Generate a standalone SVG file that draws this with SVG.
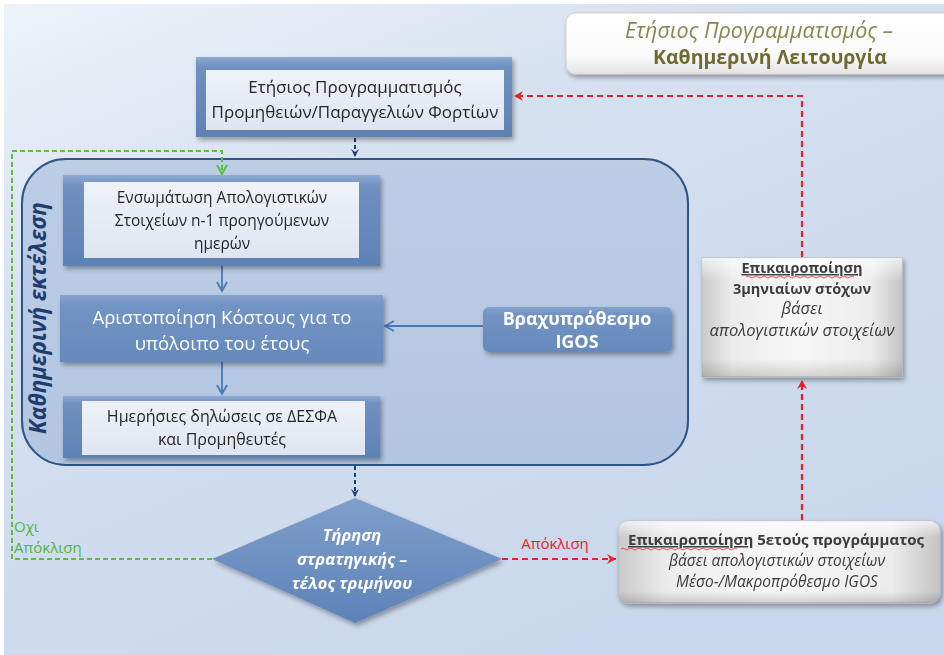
<svg xmlns="http://www.w3.org/2000/svg" width="944" height="655" viewBox="0 0 944 655">
  <defs>
    <linearGradient id="bg" x1="0" y1="0" x2="0.6" y2="1">
      <stop offset="0" stop-color="#eef3fa"/>
      <stop offset="0.35" stop-color="#d6e1f0"/>
      <stop offset="1" stop-color="#c9d7ec"/>
    </linearGradient>
    <linearGradient id="container" x1="0" y1="0" x2="0" y2="1">
      <stop offset="0" stop-color="#bccde6"/>
      <stop offset="1" stop-color="#b3c6e1"/>
    </linearGradient>
    <linearGradient id="frame" x1="0" y1="0" x2="0" y2="1">
      <stop offset="0" stop-color="#8faad2"/>
      <stop offset="0.12" stop-color="#6f90c0"/>
      <stop offset="1" stop-color="#5f82b5"/>
    </linearGradient>
    <linearGradient id="solid" x1="0" y1="0" x2="0" y2="1">
      <stop offset="0" stop-color="#86a3cd"/>
      <stop offset="0.15" stop-color="#7294c4"/>
      <stop offset="1" stop-color="#6689bc"/>
    </linearGradient>
    <linearGradient id="inner" x1="0" y1="0" x2="0" y2="1">
      <stop offset="0" stop-color="#eef2f8"/>
      <stop offset="1" stop-color="#dfe6f1"/>
    </linearGradient>
    <linearGradient id="diamond" x1="0" y1="0" x2="0" y2="1">
      <stop offset="0" stop-color="#7f9fcb"/>
      <stop offset="1" stop-color="#5c82b8"/>
    </linearGradient>
    <linearGradient id="grey" x1="0" y1="0" x2="1" y2="0">
      <stop offset="0" stop-color="#c9c9c9"/>
      <stop offset="0.15" stop-color="#ececec"/>
      <stop offset="0.5" stop-color="#f7f7f7"/>
      <stop offset="0.85" stop-color="#ececec"/>
      <stop offset="1" stop-color="#c4c4c4"/>
    </linearGradient>
    <linearGradient id="greyV" x1="0" y1="0" x2="0" y2="1">
      <stop offset="0" stop-color="#ffffff" stop-opacity="0.7"/>
      <stop offset="0.2" stop-color="#ffffff" stop-opacity="0"/>
      <stop offset="0.85" stop-color="#000000" stop-opacity="0"/>
      <stop offset="1" stop-color="#000000" stop-opacity="0.15"/>
    </linearGradient>
    <linearGradient id="title" x1="0" y1="0" x2="0" y2="1">
      <stop offset="0" stop-color="#ffffff"/>
      <stop offset="0.7" stop-color="#fafafa"/>
      <stop offset="1" stop-color="#e4e4e4"/>
    </linearGradient>
    <filter id="shadow" x="-10%" y="-10%" width="125%" height="135%">
      <feGaussianBlur in="SourceAlpha" stdDeviation="2.5"/>
      <feOffset dx="2" dy="3" result="b"/>
      <feComponentTransfer><feFuncA type="linear" slope="0.35"/></feComponentTransfer>
      <feMerge><feMergeNode/><feMergeNode in="SourceGraphic"/></feMerge>
    </filter>
    <marker id="navyHead" markerWidth="10" markerHeight="10" refX="8" refY="5" orient="auto" markerUnits="userSpaceOnUse">
      <path d="M1,1 L9,5 L1,9 L4,5 Z" fill="#1f3c6e"/>
    </marker>
    <marker id="blueHead" markerWidth="12" markerHeight="12" refX="10" refY="6" orient="auto" markerUnits="userSpaceOnUse">
      <path d="M1,1 L10,6 L1,11" fill="none" stroke="#4a78b4" stroke-width="1.8"/>
    </marker>
    <marker id="redHead" markerWidth="12" markerHeight="12" refX="10" refY="6" orient="auto" markerUnits="userSpaceOnUse">
      <path d="M1,1 L10,6 L1,11 L4,6 Z" fill="#e8202a"/>
    </marker>
    <marker id="greenHead" markerWidth="12" markerHeight="12" refX="10" refY="6" orient="auto" markerUnits="userSpaceOnUse">
      <path d="M1,1 L10,6 L1,11" fill="none" stroke="#58c03c" stroke-width="2"/>
    </marker>
    <style>
      .t { font-family: "Open Sans", "Noto Sans", "DejaVu Sans", sans-serif; }
      .dark { fill: #262626; }
      .white { fill: #ffffff; }
      .grey { fill: #3c3c3c; }
      .navyDash { fill: none; stroke: #1f3c6e; stroke-width: 2; stroke-dasharray: 4 3; }
      .redDash { fill: none; stroke: #e8202a; stroke-width: 2.2; stroke-dasharray: 6 4; }
      .greenDash { fill: none; stroke: #58c03c; stroke-width: 2; stroke-dasharray: 5 3; }
      .blueLine { fill: none; stroke: #4a78b4; stroke-width: 1.8; }
    </style>
  </defs>

  <!-- background -->
  <rect x="0" y="0" width="944" height="655" fill="#ffffff"/>
  <rect x="4" y="4" width="940" height="651" fill="url(#bg)"/>

  <!-- title card -->
  <g id="title-card" filter="url(#shadow)">
    <rect x="566" y="13" width="390" height="61" rx="9" fill="url(#title)" stroke="#d0d0d0" stroke-width="1"/>
    <text class="t" x="759" y="38" text-anchor="middle" font-size="21.5" font-style="italic" fill="#8a8650">Ετήσιος Προγραμματισμός –</text>
    <text class="t" x="770" y="64" text-anchor="middle" font-size="19.5" font-weight="bold" fill="#6f6a2e">Καθημερινή Λειτουργία</text>
  </g>

  <!-- daily execution container -->
  <g id="daily-execution">
    <rect x="22" y="159" width="666" height="306" rx="44" fill="url(#container)" stroke="#2f5486" stroke-width="2"/>
    <text class="t" transform="translate(46,318) rotate(-90)" text-anchor="middle" font-size="22.5" font-weight="bold" font-style="italic" fill="#1f3c6e">Καθημερινή εκτέλεση</text>
  </g>

  <!-- connectors -->
  <g id="connectors">
    <path class="navyDash" d="M355,138 V156" marker-end="url(#navyHead)"/>
    <path class="blueLine" d="M222,266 V291" marker-end="url(#blueHead)"/>
    <path class="blueLine" d="M222,362 V394" marker-end="url(#blueHead)"/>
    <path class="blueLine" d="M483,326 H385" marker-end="url(#blueHead)"/>
    <path class="navyDash" d="M355,466 V496" marker-end="url(#navyHead)"/>
    <path class="greenDash" d="M212,559 H12 V151 H222 V174" marker-end="url(#greenHead)"/>
    <path class="redDash" d="M502,559 H616" marker-end="url(#redHead)"/>
    <path class="redDash" d="M802,520 V380" marker-end="url(#redHead)"/>
    <path class="redDash" d="M802,257 V96 H514" marker-end="url(#redHead)"/>
  </g>

  <!-- annual planning box -->
  <g id="annual-planning" filter="url(#shadow)">
    <rect x="196" y="57" width="316" height="80" fill="url(#frame)"/>
    <rect x="206" y="70" width="298" height="60" fill="url(#inner)"/>
    <text class="t dark" x="355" y="93" text-anchor="middle" font-size="17">Ετήσιος Προγραμματισμός</text>
    <text class="t dark" x="355" y="118" text-anchor="middle" font-size="17">Προμηθειών/Παραγγελιών Φορτίων</text>
  </g>

  <!-- incorporate actuals box -->
  <g id="incorporate-actuals" filter="url(#shadow)">
    <rect x="63" y="175" width="317" height="91" fill="url(#frame)"/>
    <rect x="84" y="182" width="275" height="76" fill="url(#inner)"/>
    <text class="t dark" x="222" y="203" text-anchor="middle" font-size="15.5">Ενσωμάτωση  Απολογιστικών</text>
    <text class="t dark" x="222" y="226" text-anchor="middle" font-size="15.5">Στοιχείων n-1 προηγούμενων</text>
    <text class="t dark" x="222" y="249" text-anchor="middle" font-size="15.5">ημερών</text>
  </g>

  <!-- cost optimisation box -->
  <g id="cost-optimisation" filter="url(#shadow)">
    <rect x="60" y="295" width="323" height="67" fill="url(#solid)"/>
    <text class="t white" x="222" y="324" text-anchor="middle" font-size="18.5">Αριστοποίηση Κόστους  για το</text>
    <text class="t white" x="222" y="350" text-anchor="middle" font-size="18.5">υπόλοιπο του έτους</text>
  </g>

  <!-- short-term IGOS -->
  <g id="short-term-igos" filter="url(#shadow)">
    <rect x="483" y="307" width="189" height="45" rx="6" fill="url(#solid)"/>
    <text class="t white" x="577" y="325" text-anchor="middle" font-size="18" font-weight="bold">Βραχυπρόθεσμο</text>
    <text class="t white" x="577" y="348" text-anchor="middle" font-size="18" font-weight="bold">IGOS</text>
  </g>

  <!-- daily declarations box -->
  <g id="daily-declarations" filter="url(#shadow)">
    <rect x="63" y="396" width="317" height="62" fill="url(#frame)"/>
    <rect x="82" y="401" width="283" height="54" fill="url(#inner)"/>
    <text class="t dark" x="222" y="422" text-anchor="middle" font-size="16">Ημερήσιες δηλώσεις σε ΔΕΣΦΑ</text>
    <text class="t dark" x="222" y="445" text-anchor="middle" font-size="16">και Προμηθευτές</text>
  </g>

  <!-- strategy check decision -->
  <g id="strategy-check" filter="url(#shadow)">
    <polygon points="355,498 502,559 355,623 212,559" fill="url(#diamond)"/>
    <text class="t white" x="352" y="541" text-anchor="middle" font-size="16.5" font-style="italic" font-weight="bold">Τήρηση</text>
    <text class="t white" x="352" y="565" text-anchor="middle" font-size="16.5" font-style="italic" font-weight="bold">στρατηγικής –</text>
    <text class="t white" x="352" y="589" text-anchor="middle" font-size="16.5" font-style="italic" font-weight="bold">τέλος τριμήνου</text>
  </g>

  <!-- branch labels -->
  <g id="branch-labels">
    <text class="t" x="14" y="532" font-size="15" fill="#4fb63a">Οχι</text>
    <text class="t" x="14" y="553" font-size="15" fill="#4fb63a">Απόκλιση</text>
    <text class="t" x="555" y="549" text-anchor="middle" font-size="15" fill="#e8202a">Απόκλιση</text>
  </g>

  <!-- quarterly targets update -->
  <g id="quarterly-update" filter="url(#shadow)">
    <rect x="702" y="258" width="200" height="119" fill="url(#grey)" stroke="#bdbdbd" stroke-width="1"/>
    <rect x="702" y="258" width="200" height="119" fill="url(#greyV)"/>
    <text class="t grey" x="802" y="273" text-anchor="middle" font-weight="bold" font-size="14.5" text-decoration="underline">Επικαιροποίηση</text>
    <path d="M746,277 q2,-2 4,0 t4,0 t4,0 t4,0 t4,0 t4,0 t4,0 t4,0 t4,0 t4,0 t4,0 t4,0 t4,0 t4,0 t4,0 t4,0 t4,0 t4,0 t4,0 t4,0 t4,0 t4,0 t4,0 t4,0 t4,0 t4,0 t4,0" fill="none" stroke="#e04040" stroke-width="0.9"/>
    <text class="t grey" x="802" y="294" text-anchor="middle" font-weight="bold" font-size="14.5">3μηνιαίων στόχων</text>
    <text class="t grey" x="802" y="314" text-anchor="middle" font-style="italic" font-size="16.5">βάσει</text>
    <text class="t grey" x="802" y="336" text-anchor="middle" font-style="italic" font-size="16.5">απολογιστικών στοιχείων</text>
  </g>

  <!-- five-year programme update -->
  <g id="five-year-update" filter="url(#shadow)">
    <rect x="618" y="521" width="322" height="82" rx="10" fill="url(#grey)" stroke="#bdbdbd" stroke-width="1"/>
    <rect x="618" y="521" width="322" height="82" rx="10" fill="url(#greyV)"/>
    <text class="t grey" x="776" y="545" text-anchor="middle" font-weight="bold" font-size="15"><tspan text-decoration="underline">Επικαιροποίηση</tspan>  5ετούς προγράμματος</text>
    <path d="M621,549 q2,-2 4,0 t4,0 t4,0 t4,0 t4,0 t4,0 t4,0 t4,0 t4,0 t4,0 t4,0 t4,0 t4,0 t4,0 t4,0 t4,0 t4,0 t4,0 t4,0 t4,0 t4,0 t4,0 t4,0 t4,0 t4,0 t4,0 t4,0 t4,0 t4,0" fill="none" stroke="#e04040" stroke-width="0.9"/>
    <text class="t grey" x="777" y="566" text-anchor="middle" font-style="italic" font-size="15.5">βάσει απολογιστικών στοιχείων</text>
    <text class="t grey" x="777" y="587" text-anchor="middle" font-style="italic" font-size="15.5">Μέσο-/Μακροπρόθεσμο IGOS</text>
  </g>
</svg>
